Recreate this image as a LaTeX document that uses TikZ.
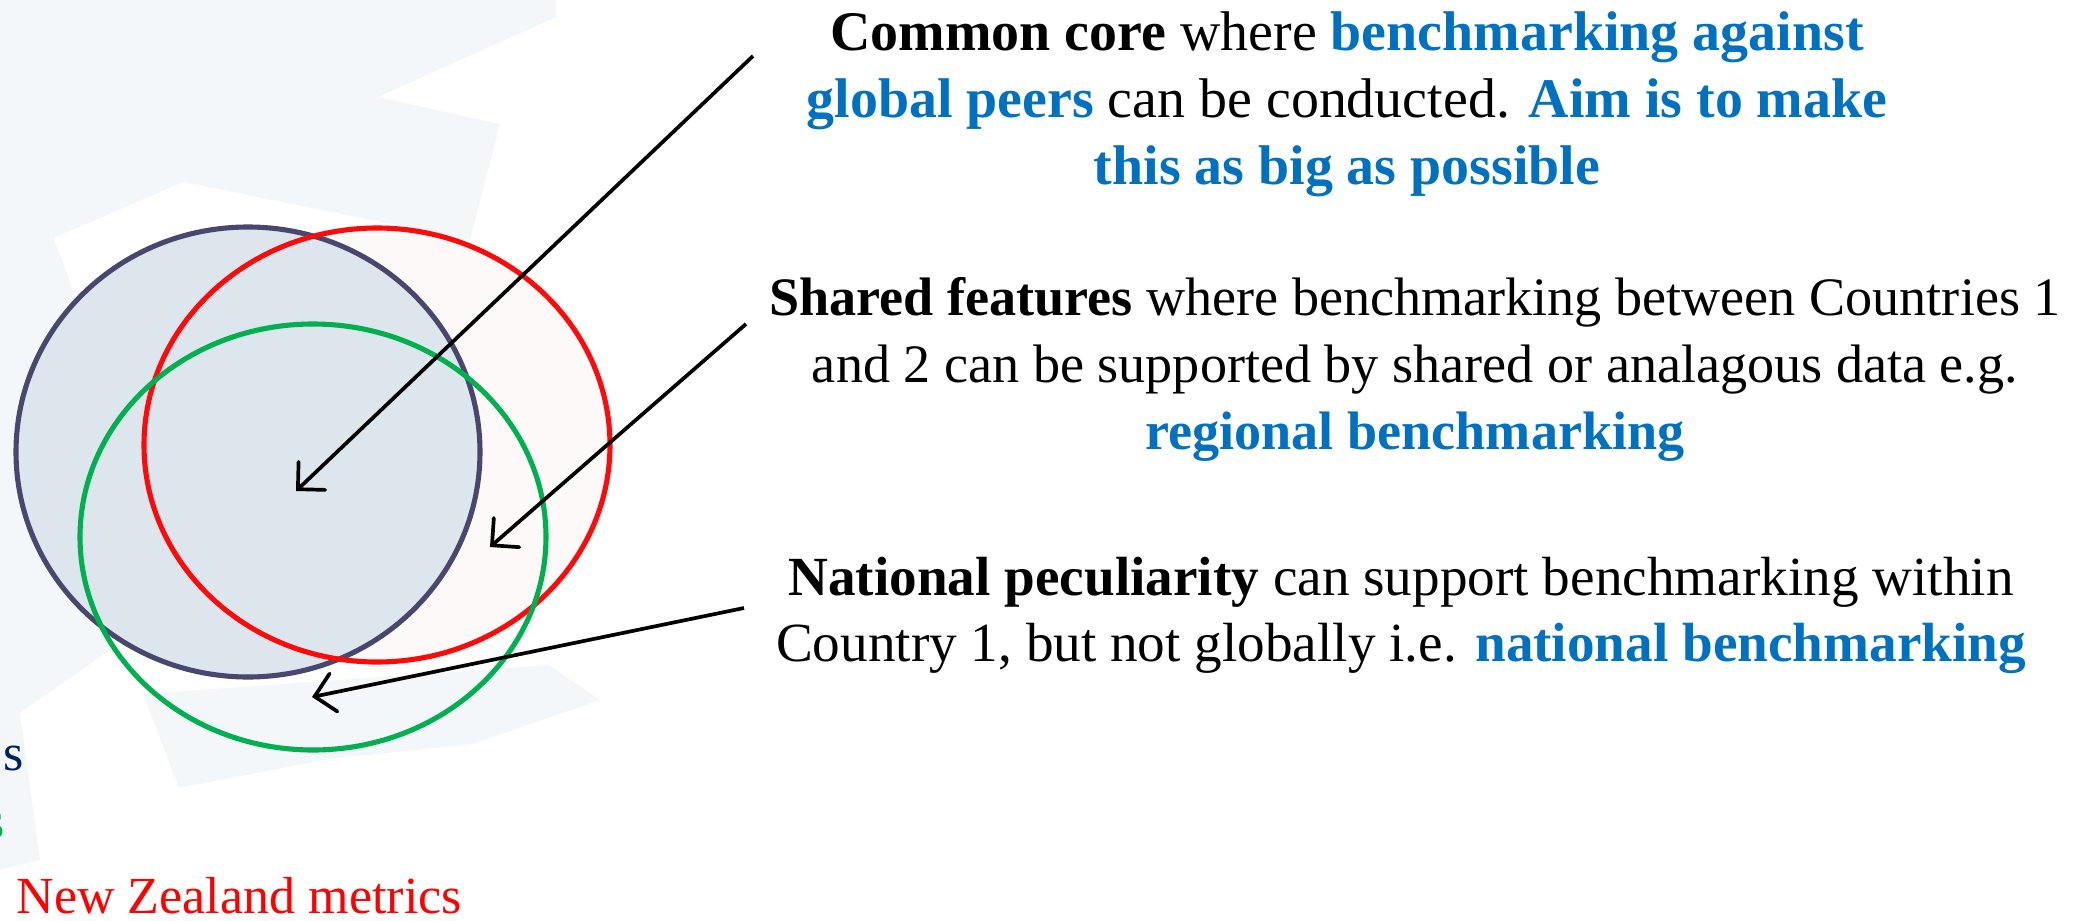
\documentclass[tikz,border=0pt]{standalone}
\usepackage{fontspec}
\setmainfont{Liberation Serif}
\usepackage{xcolor}
\usepackage{tikz}
\usetikzlibrary{arrows.meta}

\definecolor{navyline}{HTML}{48486F}
\definecolor{navyfill}{HTML}{DEE6ED}
\definecolor{navytext}{HTML}{002060}
\definecolor{redline}{HTML}{FF0A0A}
\definecolor{redfill}{HTML}{FDF7F6}
\definecolor{greenline}{HTML}{00B050}
\definecolor{ppblue}{HTML}{0070C0}
\definecolor{wmark}{HTML}{F4F7F9}

\newcommand{\bluebold}[1]{{\color{ppblue}\bfseries #1}}

\begin{document}
\begin{tikzpicture}[x=0.01cm,y=-0.01cm,
    setline/.style={line width=1.45pt},
    pointer/.style={line width=1.05pt,-{Straight Barb[length=5.5pt,width=11pt,line cap=round]}},
    note/.style={align=center,inner sep=0pt,anchor=north,font=\fontsize{15.4}{19}\selectfont}]
\useasboundingbox (0,0) rectangle (2090,921);

% faint watermark behind the sets
\fill[wmark] (0,0) -- (556,0) -- (556,17) -- (378,97) -- (500,124) -- (470,240) -- (183,182) -- (54,238) -- (0,250) -- cycle;
\fill[wmark] (0,250) -- (54,238) -- (120,420) -- (110,650) -- (20,713) -- (40,860) -- (0,870) -- cycle;
\fill[wmark] (143,694) -- (549,665) -- (600,700) -- (473,744) -- (330,759) -- (179,788) -- cycle;

% the three sets
\fill[redfill,fill opacity=0.8] (377,445) ellipse [x radius=233,y radius=217];
\fill[navyfill] (248,452) ellipse [x radius=232,y radius=225];
\draw[setline,navyline] (248,452) ellipse [x radius=232,y radius=225];
\draw[setline,redline] (377,445) ellipse [x radius=233,y radius=217];
\draw[setline,greenline] (313,537) ellipse [x radius=233,y radius=213];

% cut legend
\node [anchor=base west,inner sep=0pt,font=\fontsize{14.8}{19}\selectfont,text=navytext] (lgone) at (3,770) {s};
\node [anchor=base east,inner sep=0pt,font=\fontsize{14.8}{19}\selectfont,text=greenline] (lgtwo) at (5,838) {s};
\node [anchor=base west,inner sep=0pt,font=\fontsize{14.8}{19}\selectfont,text=red] (lgnz) at (16,913) {New Zealand metrics};

% notes
\node [note,font=\fontsize{15.9}{19}\selectfont] (core) at (1347,11) {{\bfseries Common core} where \bluebold{benchmarking against}\\
    \bluebold{global peers} can be conducted. \bluebold{Aim is to make}\\
    \bluebold{this as big as possible}};
\node [note] (shared) at (1415,277) {{\bfseries Shared features} where benchmarking between Countries 1\\
    and 2 can be supported by shared or analagous data e.g.\\
    \bluebold{regional benchmarking}};
\node [note,font=\fontsize{15.7}{19}\selectfont] (natl) at (1401,556) {{\bfseries National peculiarity} can support benchmarking within\\
    Country 1, but not globally i.e. \bluebold{national benchmarking}};

% arrows
\coordinate (coretail) at (753,56);
\coordinate (corehead) at (296,491);
\coordinate (sharedtail) at (746,324);
\coordinate (sharedhead) at (490,547);
\coordinate (natltail) at (744,608);
\coordinate (natlhead) at (312,697);
\draw[pointer] (coretail) -- (corehead);
\draw[pointer] (sharedtail) -- (sharedhead);
\draw[pointer] (natltail) -- (natlhead);
\end{tikzpicture}
\end{document}
